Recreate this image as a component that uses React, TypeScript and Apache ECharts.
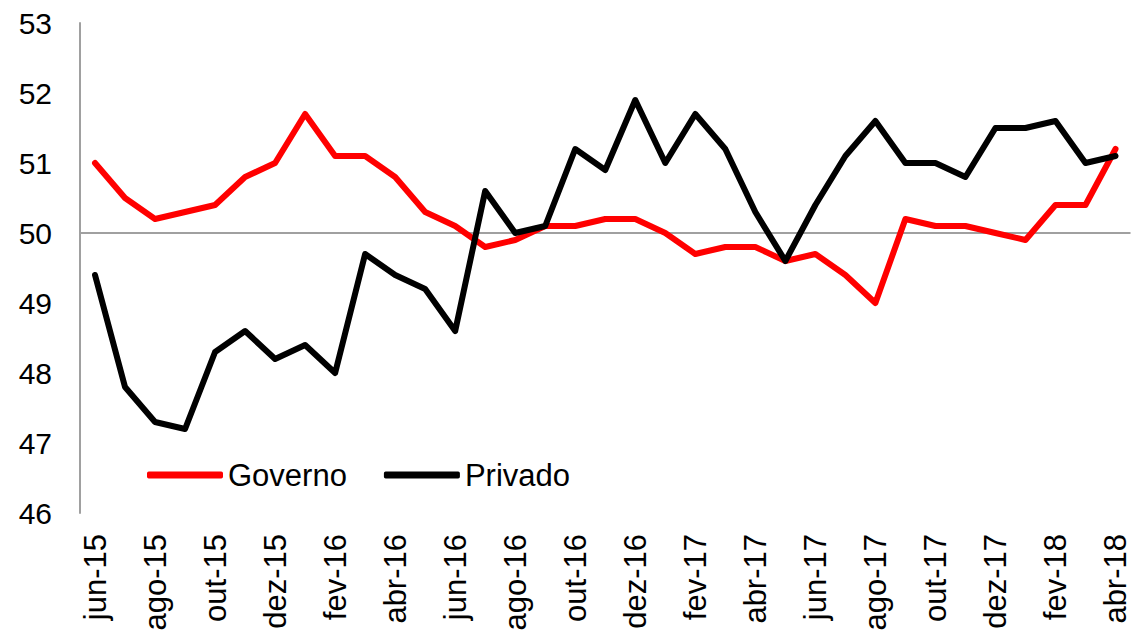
import React, { useEffect, useRef } from "react";
import * as echarts from "echarts";

const categories: string[] = [
  "jun-15", "jul-15", "ago-15", "set-15", "out-15", "nov-15", "dez-15",
  "jan-16", "fev-16", "mar-16", "abr-16", "mai-16", "jun-16", "jul-16", "ago-16", "set-16", "out-16", "nov-16", "dez-16",
  "jan-17", "fev-17", "mar-17", "abr-17", "mai-17", "jun-17", "jul-17", "ago-17", "set-17", "out-17", "nov-17", "dez-17",
  "jan-18", "fev-18", "mar-18", "abr-18",
];

const governo: number[] = [
  51.0, 50.5, 50.2, 50.3, 50.4, 50.8, 51.0,
  51.7, 51.1, 51.1, 50.8, 50.3, 50.1, 49.8, 49.9, 50.1, 50.1, 50.2, 50.2,
  50.0, 49.7, 49.8, 49.8, 49.6, 49.7, 49.4, 49.0, 50.2, 50.1, 50.1, 50.0,
  49.9, 50.4, 50.4, 51.2,
];

const privado: number[] = [
  49.4, 47.8, 47.3, 47.2, 48.3, 48.6, 48.2,
  48.4, 48.0, 49.7, 49.4, 49.2, 48.6, 50.6, 50.0, 50.1, 51.2, 50.9, 51.9,
  51.0, 51.7, 51.2, 50.3, 49.6, 50.4, 51.1, 51.6, 51.0, 51.0, 50.8, 51.5,
  51.5, 51.6, 51.0, 51.1,
];

const FONT = "'Liberation Sans', Arial, sans-serif";

export default function App() {
  const ref = useRef<HTMLDivElement>(null);
  useEffect(() => {
    if (!ref.current) return;
    const chart = echarts.init(ref.current, undefined, { renderer: "svg" });
    chart.setOption({
      animation: false,
      backgroundColor: "#ffffff",
      grid: { left: 80, right: 0, top: 23, bottom: 122 },
      legend: {
        left: 142,
        top: 454,
        icon: "roundRect",
        itemWidth: 76,
        itemHeight: 7,
        itemGap: 37,
        textStyle: { fontFamily: FONT, fontSize: 31, color: "#000", lineHeight: 32 },
        data: ["Governo", "Privado"],
      },
      xAxis: {
        type: "category",
        data: categories,
        boundaryGap: true,
        axisLine: { show: false },
        axisTick: { show: false },
        axisLabel: {
          rotate: 90,
          interval: 1,
          margin: 21,
          fontFamily: FONT,
          fontSize: 31,
          lineHeight: 26,
          color: "#000",
        },
      },
      yAxis: {
        type: "value",
        min: 46,
        max: 53,
        interval: 1,
        axisLine: { show: true, lineStyle: { color: "#a0a0a0", width: 2 } },
        axisTick: { show: false },
        splitLine: { show: false },
        axisLabel: { fontFamily: FONT, fontSize: 30, color: "#000", margin: 28 },
      },
      series: [
        {
          name: "Governo",
          type: "line",
          data: governo,
          showSymbol: false,
          symbol: "none",
          color: "#ff0000",
          lineStyle: { color: "#ff0000", width: 6, cap: "round", join: "round" },
          z: 3,
          markLine: {
            silent: true,
            symbol: "none",
            label: { show: false },
            lineStyle: { color: "#a0a0a0", width: 2, type: "solid" },
            data: [{ yAxis: 50 }],
            z: 1,
          },
        },
        {
          name: "Privado",
          type: "line",
          data: privado,
          showSymbol: false,
          symbol: "none",
          color: "#000000",
          lineStyle: { color: "#000000", width: 6, cap: "round", join: "round" },
          z: 4,
        },
      ],
    });
    return () => chart.dispose();
  }, []);
  return (
    <div
      ref={ref}
      style={{ position: "fixed", left: 0, top: 0, width: 1131, height: 635, background: "#fff" }}
    />
  );
}
